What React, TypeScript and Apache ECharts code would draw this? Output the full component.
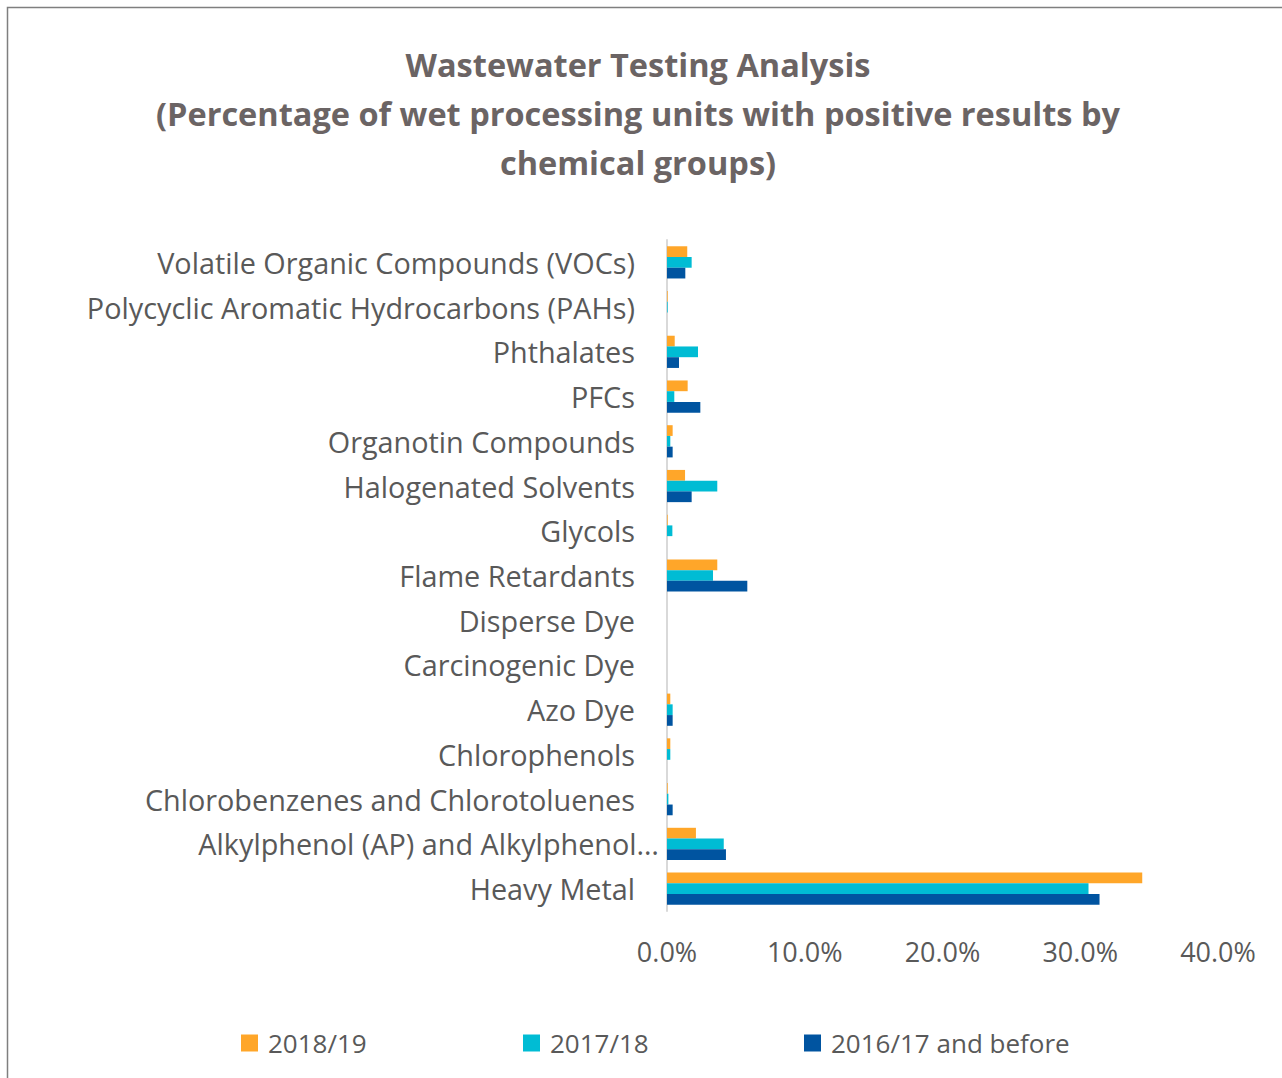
import React, { useEffect, useRef } from "react";
import * as echarts from "echarts";

const categories = [
  "Heavy Metal",
  "Alkylphenol (AP) and Alkylphenol…",
  "Chlorobenzenes and Chlorotoluenes",
  "Chlorophenols",
  "Azo Dye",
  "Carcinogenic Dye",
  "Disperse Dye",
  "Flame Retardants",
  "Glycols",
  "Halogenated Solvents",
  "Organotin Compounds",
  "PFCs",
  "Phthalates",
  "Polycyclic Aromatic Hydrocarbons (PAHs)",
  "Volatile Organic Compounds (VOCs)",
];

const series2018 = [34.5, 2.1, 0.05, 0.24, 0.24, 0, 0, 3.65, 0.05, 1.31, 0.41, 1.5, 0.56, 0.05, 1.47];
const series2017 = [30.6, 4.12, 0.1, 0.24, 0.41, 0, 0, 3.34, 0.39, 3.65, 0.24, 0.53, 2.25, 0.05, 1.79];
const series2016 = [31.4, 4.28, 0.41, 0, 0.41, 0, 0, 5.83, 0, 1.79, 0.41, 2.42, 0.87, 0, 1.33];

const seriesNames = ["2018/19", "2017/18", "2016/17 and before"];
const colors = ["#FFA629", "#00BCD4", "#0054A0"];

const FONT = "Open Sans";

export default function App() {
  const ref = useRef<HTMLDivElement>(null);
  useEffect(() => {
    document.body.style.margin = "0";
    const chart = echarts.init(ref.current!, undefined, { renderer: "svg" });
    const truncated = categories[1];
    chart.setOption({
      animation: false,
      backgroundColor: "#ffffff",
      title: {
        text: "Wastewater Testing Analysis\n(Percentage of wet processing units with positive results by\nchemical groups)",
        left: 633,
        top: 35,
        textAlign: "center",
        textStyle: {
          fontFamily: FONT,
          fontSize: 32.5,
          fontWeight: "bold",
          color: "#6B6464",
          lineHeight: 49,
        },
      },
      graphic: [
        {
          type: "rect",
          shape: { x: 7.5, y: 7.5, width: 1300, height: 1100 },
          style: { fill: "none", stroke: "#7F7F7F", lineWidth: 1.5 },
          silent: true,
        },
      ],
      legend: seriesNames.map((n, i) => ({
        data: [n],
        left: [241, 523, 804][i],
        top: 1030,
        padding: 0,
        itemWidth: 17,
        itemHeight: 17,
        itemGap: 0,
        icon: "rect",
        textStyle: { fontFamily: FONT, fontSize: 26, color: "#595959", padding: [0, 0, 0, 5] },
      })),
      grid: { left: 667, right: 64, top: 240, bottom: 167, containLabel: false },
      xAxis: {
        type: "value",
        min: 0,
        max: 40,
        interval: 10,
        axisLine: { show: false },
        axisTick: { show: false },
        splitLine: { show: false },
        axisLabel: {
          margin: 27,
          fontFamily: FONT,
          fontSize: 27,
          color: "#595959",
          formatter: (v: number) => v.toFixed(1) + "%",
        },
      },
      yAxis: {
        type: "category",
        data: categories,
        axisLine: { show: true, lineStyle: { color: "#D9D9D9", width: 2 } },
        axisTick: { show: false },
        axisLabel: {
          margin: 8,
          interval: 0,
          formatter: (v: string) => (v === truncated ? "{b|" + v + "}" : "{a|" + v + "}"),
          rich: {
            a: { fontFamily: FONT, fontSize: 28.8, color: "#595959", padding: [0, 24, 0, 0] },
            b: { fontFamily: FONT, fontSize: 28.8, color: "#595959" },
          },
        },
      },
      series: seriesNames.map((n, i) => ({
        name: n,
        type: "bar",
        data: [series2018, series2017, series2016][i],
        itemStyle: { color: colors[i] },
        barGap: "0%",
        barCategoryGap: "28%",
      })),
    });
    return () => chart.dispose();
  }, []);
  return <div ref={ref} style={{ width: 1282, height: 1078 }} />;
}
